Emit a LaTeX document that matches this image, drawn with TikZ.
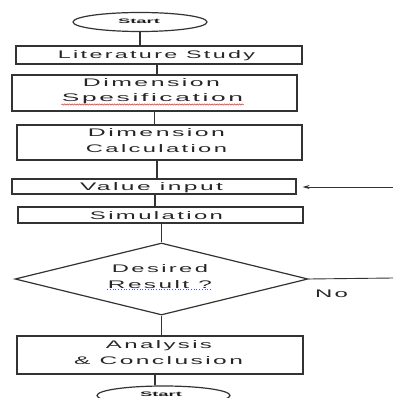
\documentclass[tikz,border=0pt]{standalone}
\usepackage{fontspec}
\usepackage{graphicx}
\setmainfont{Liberation Sans}
\newfontfamily\lsf[LetterSpace=10]{Liberation Sans}
\newfontfamily\lsfb{Liberation Sans}
\usetikzlibrary{shapes.geometric,decorations.pathmorphing,arrows.meta}
\newcommand{\wt}[2]{\resizebox{#1pt}{\height}{#2}}
\begin{document}
\begin{tikzpicture}[x=1pt,y=-1pt,
  line width=1.2pt,
  box/.style={draw=black!80, rectangle, inner sep=0pt},
  term/.style={draw=black!80, ellipse, inner sep=0pt, minimum width=134pt, minimum height=19pt},
  txt/.style={inner sep=0pt, anchor=base, text=black!85, font=\lsf\fontsize{11}{13}\selectfont},
  stxt/.style={inner sep=0pt, anchor=base, text=black!90, font=\lsfb\bfseries\fontsize{6.5}{8}\selectfont},
  conn/.style={draw=black!80, line width=1.3pt}
]
\useasboundingbox (0,0) rectangle (393,398);
% shapes
\node[term] (st1) at (140,22) {};
\node[box, minimum width=286pt, minimum height=18pt] (ls) at (159,55) {};
\node[box, minimum width=285pt, minimum height=36pt] (ds) at (154.5,93) {};
\node[box, minimum width=285pt, minimum height=35pt] (dc) at (159.5,142.5) {};
\node[box, minimum width=284pt, minimum height=15pt] (vi) at (154,186.5) {};
\node[box, minimum width=285pt, minimum height=16pt] (sim) at (160.5,215) {};
\node[draw=black!80, diamond, inner sep=0pt, minimum width=293pt, minimum height=72pt] (dia) at (161.5,279) {};
\node[box, minimum width=286pt, minimum height=38pt] (ac) at (160,355) {};
\node[term, minimum width=133pt] (st2) at (163.5,395.5) {};
% texts
\node[stxt] (t0) at (139,23.5) {\wt{42}{Start}};
\node[txt] (t1) at (156.5,59) {\wt{197}{Literature Study}};
\node[txt] (t2) at (151.5,87) {\wt{137}{Dimension}};
\node[txt] (spes) at (152.5,102) {\wt{181}{Spesification}};
\node[txt] (t4) at (156.5,136.5) {\wt{137}{Dimension}};
\node[txt] (t5) at (156.5,152) {\wt{141}{Calculation}};
\node[txt] (t6) at (151.5,190) {\wt{143}{Value input}};
\node[txt] (t7) at (156.5,219) {\wt{133}{Simulation}};
\node[txt] (t8) at (160,272) {\wt{96}{Desired}};
\node[txt] (res) at (160,288) {\wt{104}{Result ?}};
\node[txt] (no) at (331.5,297) {\wt{33}{No}};
\node[txt] (t10) at (159,348) {\wt{106}{Analysis}};
\node[txt] (t11) at (158.5,364) {\wt{169}{\& Conclusion}};
\node[stxt] (t12) at (161,396.5) {\wt{42}{Start}};
% spell-check underlines
\draw[red!85, line width=0.6pt, decorate, decoration={snake, amplitude=0.6pt, segment length=2.5pt}]
  ([yshift=-2.5pt]spes.base west) -- ([yshift=-2.5pt]spes.base east);
\draw[blue!70, line width=0.7pt, dotted]
  ([yshift=-1.8pt]res.base west) -- ([yshift=-1.8pt]res.base east);
% connectors
\draw[conn] (st1.south) -- (st1.south |- ls.north);
\draw[conn] ([xshift=-2pt]ls.south) -- ([xshift=-2pt]ls.south |- ds.north);
\draw[conn] (ds.south) -- (ds.south |- dc.north);
\draw[conn] ([xshift=-2.5pt]dc.south) -- ([xshift=-2.5pt]dc.south |- vi.north);
\draw[conn] ([xshift=1pt]vi.south) -- ([xshift=1pt]vi.south |- sim.north);
\draw[conn] (dia.north) -- (dia.north |- sim.south);
\draw[conn] (dia.south) -- (dia.south |- ac.north);
\draw[conn] ([xshift=-5pt]ac.south) -- ([xshift=-5pt]ac.south |- st2.north);
\coordinate (vin) at (393,187);
\draw[draw=black!80, line width=0.9pt, -{Stealth[length=7pt,width=4pt]}, shorten >=6pt] (vin) -- (vin -| vi.east);
\coordinate (nor) at (393,278);
\draw[draw=black!80, line width=0.9pt] (dia.east) -- (nor);
\end{tikzpicture}
\end{document}
